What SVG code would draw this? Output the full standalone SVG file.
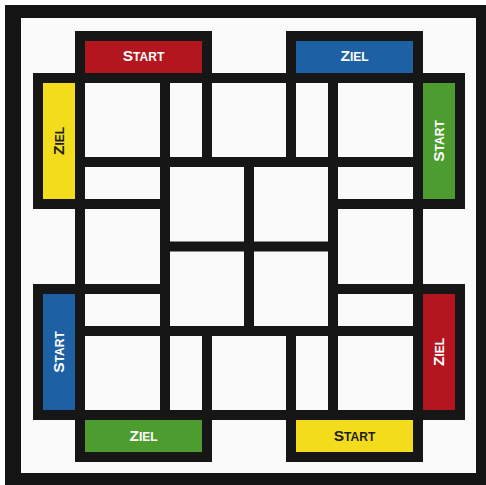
<svg xmlns="http://www.w3.org/2000/svg" width="486" height="485" viewBox="0 0 486 485">
  <style>
    .grid { fill: none; stroke: #161616; stroke-width: 10; stroke-linecap: square; }
    .lbl { font-family: "Liberation Sans", Arial, sans-serif; font-weight: bold; text-anchor: middle; font-size: 12px; }
    .big { font-size: 15.5px; }
    .w { fill: #ffffff; }
    .d { fill: #1c1c1c; }
    .red { fill: #b3161f; }
    .blue { fill: #1e60a4; }
    .green { fill: #4c9c30; }
    .yellow { fill: #f2dc1c; }
  </style>
  <rect x="0" y="0" width="486" height="485" fill="#ffffff"/>
  <g id="frame">
    <rect x="5" y="5" width="481" height="480" fill="#141414"/>
    <rect x="21" y="18" width="455" height="455" fill="#fafafa"/>
  </g>
  <g id="fields">
    <rect class="red" x="85" y="41" width="117" height="32"/>
    <rect class="blue" x="296" y="41" width="117" height="32"/>
    <rect class="yellow" x="43" y="83" width="32" height="116"/>
    <rect class="green" x="423" y="83" width="32" height="116"/>
    <rect class="blue" x="43" y="294" width="32" height="116"/>
    <rect class="red" x="423" y="294" width="32" height="116"/>
    <rect class="green" x="85" y="420" width="117" height="32"/>
    <rect class="yellow" x="296" y="420" width="117" height="32"/>
  </g>
  <g id="connectors" class="grid">
    <path d="M80 36H207M291 36H418"/>
    <path d="M38 78H460"/>
    <path d="M80 162H418"/>
    <path d="M38 204H165M333 204H460"/>
    <path d="M165 246.5H333"/>
    <path d="M38 289H165M333 289H460"/>
    <path d="M80 331H418"/>
    <path d="M38 415H460"/>
    <path d="M80 457H207M291 457H418"/>
    <path d="M38 78V204M38 289V415"/>
    <path d="M80 36V457"/>
    <path d="M165 78V415"/>
    <path d="M207 36V162M207 331V457"/>
    <path d="M249 162V331"/>
    <path d="M291 36V162M291 331V457"/>
    <path d="M333 78V415"/>
    <path d="M418 36V457"/>
    <path d="M460 78V204M460 289V415"/>
  </g>
  <g id="start-red">
    <text class="lbl w" x="143.5" y="61"><tspan class="big">S</tspan>TART</text>
  </g>
  <g id="ziel-blue">
    <text class="lbl w" x="354.5" y="61"><tspan class="big">Z</tspan>IEL</text>
  </g>
  <g id="ziel-yellow" transform="translate(59 141) rotate(-90)">
    <text class="lbl d" x="0" y="4.5"><tspan class="big">Z</tspan>IEL</text>
  </g>
  <g id="start-green" transform="translate(439 141) rotate(-90)">
    <text class="lbl w" x="0" y="4.5"><tspan class="big">S</tspan>TART</text>
  </g>
  <g id="start-blue" transform="translate(59 352) rotate(-90)">
    <text class="lbl w" x="0" y="4.5"><tspan class="big">S</tspan>TART</text>
  </g>
  <g id="ziel-red" transform="translate(439 352) rotate(-90)">
    <text class="lbl w" x="0" y="4.5"><tspan class="big">Z</tspan>IEL</text>
  </g>
  <g id="ziel-green">
    <text class="lbl w" x="143.5" y="441"><tspan class="big">Z</tspan>IEL</text>
  </g>
  <g id="start-yellow">
    <text class="lbl d" x="354.5" y="441"><tspan class="big">S</tspan>TART</text>
  </g>
</svg>
